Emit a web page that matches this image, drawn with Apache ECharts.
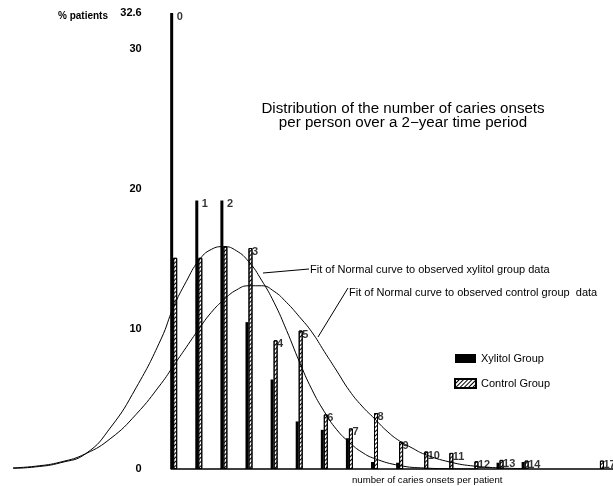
<!DOCTYPE html>
<html><head><meta charset="utf-8">
<script src="https://cdn.jsdelivr.net/npm/echarts@6/dist/echarts.min.js"></script>
<style>html,body{margin:0;padding:0;background:#fff}#c{width:613px;height:486px}</style>
</head><body><div id="c"></div>
<script>
// number of caries onsets per patient
const categories = [0,1,2,3,4,5,6,7,8,9,10,11,12,13,14,15,16,17];
// % patients
const xylitol = [32.6,19.2,19.2,10.5,6.4,3.4,2.8,2.2,0.5,0.45,0,0,0,0.45,0.5,0,0,0];
const control = [15.1,15.1,15.9,15.8,9.2,9.9,3.9,2.9,4.0,1.95,1.25,1.15,0.55,0.65,0.6,0,0,0.6];
const yTicks = [0,10,20,30,32.6];
// fitted Normal curves
const xylFitX = [-6.4,-5.5,-4.5,-3.5,-2.5,-1.5,-0.5,0,0.5,1,1.5,2,2.5,3,3.5,4,4.5,5,5.5,6,6.5,7,7.5,8,9,10,11,12];
const xylFitY = [0.05,0.15,0.45,1.1,3.0,5.8,9.3,11.6,13.4,14.9,15.7,15.9,15.6,14.8,13.5,11.9,9.9,7.7,5.7,4.1,2.8,1.9,1.2,0.75,0.25,0.07,0.02,0];
const ctlFitX = [-6.4,-5.5,-4.5,-3.5,-2.5,-1.5,-0.5,0,0.5,1,1.5,2,2.5,3,3.5,4,4.5,5,5.5,6,6.5,7,7.5,8,8.5,9,9.5,10,11,12,13,14];
const ctlFitY = [0.08,0.2,0.5,1.1,2.2,3.9,6.1,7.4,8.7,10.0,11.2,12.1,12.8,13.1,13.1,12.7,11.9,10.9,9.8,8.4,7.0,5.6,4.5,3.6,2.7,2.0,1.5,1.05,0.5,0.2,0.08,0.02];

const FONT = '"Liberation Sans", Arial, sans-serif';
const X_MIN = -6.5, X_MAX = 17.5;
const zip = (xs, ys) => xs.map((x, i) => [x, ys[i]]);

// full category band list spanning the plotted range (left tail of the curves included)
const bandCats = [];
for (let k = X_MIN + 0.5; k < X_MAX; k++) bandCats.push(String(k));
const lead = bandCats.length - categories.length;
const padded = arr => new Array(lead).fill(null).concat(arr.map(v => (v > 0 ? v : null)));

const tops = [];
categories.forEach((c, i) => {
  const m = Math.max(xylitol[i], control[i]);
  if (m > 0) tops.push([c, m]);
});

const GRID_L = 10.5, GRID_R = 0, GRID_T = 13, GRID_B = 17;
const unit = (613 - GRID_L - GRID_R) / (X_MAX - X_MIN);
const zeroPx = GRID_L + (0 - X_MIN) * unit;

const hidden = {axisLine: {show: false}, axisTick: {show: false}, axisLabel: {show: false}, splitLine: {show: false}};

const chart = echarts.init(document.getElementById('c'), null, {renderer: 'canvas'});
chart.setOption({
  animation: false,
  backgroundColor: '#fff',
  textStyle: {fontFamily: FONT},
  grid: [
    {left: GRID_L, right: GRID_R, top: GRID_T, bottom: GRID_B, containLabel: false, outerBoundsMode: 'none'},
    {left: zeroPx, right: GRID_R, top: GRID_T, bottom: GRID_B, containLabel: false, outerBoundsMode: 'none'}
  ],
  xAxis: [
    Object.assign({type: 'category', data: bandCats, boundaryGap: true, gridIndex: 0}, hidden),
    Object.assign({type: 'value', min: X_MIN, max: X_MAX, gridIndex: 0}, hidden),
    Object.assign({type: 'value', min: 0, max: 1, gridIndex: 1}, hidden)
  ],
  yAxis: [
    Object.assign({type: 'value', min: 0, max: 32.6, gridIndex: 0}, hidden),
    {
      type: 'value', min: 0, max: 32.6, interval: 10, gridIndex: 1,
      axisLine: {show: false}, axisTick: {show: false}, splitLine: {show: false},
      axisLabel: {customValues: yTicks, margin: 32, color: '#000', fontSize: 11, fontWeight: 'bold',
        fontFamily: FONT, formatter: v => String(v)}
    }
  ],
  legend: {
    orient: 'vertical', left: 449, top: 348, itemWidth: 21, itemHeight: 9, itemGap: 14,
    icon: 'rect', data: ['Xylitol Group', 'Control Group'],
    textStyle: {fontSize: 11, color: '#000', fontFamily: FONT}
  },
  series: [
    {
      name: 'Xylitol Group', type: 'bar', xAxisIndex: 0, yAxisIndex: 0, barWidth: 3, barGap: '0%',
      data: padded(xylitol),
      itemStyle: {color: '#000'}
    },
    {
      name: 'Control Group', type: 'bar', xAxisIndex: 0, yAxisIndex: 0, barWidth: 4, barGap: '0%',
      data: padded(control),
      itemStyle: {color: '#fff', borderColor: '#000', borderWidth: 1,
        decal: {symbol: 'rect', color: '#000', dashArrayX: [1, 0], dashArrayY: [1, 2], rotation: -Math.PI / 4}}
    },
    {
      name: 'labels', type: 'scatter', xAxisIndex: 1, yAxisIndex: 0, symbolSize: 0, data: tops, silent: true,
      label: {show: true, position: 'right', distance: 3, offset: [0, 4], color: '#000',
        fontSize: 11, fontWeight: 'bold', fontFamily: FONT, formatter: p => String(p.value[0])}
    },
    {
      name: 'xylFit', type: 'line', xAxisIndex: 1, yAxisIndex: 0, smooth: true, showSymbol: false, silent: true, z: 5,
      data: zip(xylFitX, xylFitY), lineStyle: {color: '#000', width: 1},
      markLine: {
        silent: true, symbol: 'none', label: {show: false},
        lineStyle: {color: '#000', width: 1.5, type: 'solid'},
        data: [[{coord: [-0.12, 0]}, {coord: [X_MAX, 0]}]]
      }
    },
    {
      name: 'ctlFit', type: 'line', xAxisIndex: 1, yAxisIndex: 0, smooth: true, showSymbol: false, silent: true, z: 5,
      data: zip(ctlFitX, ctlFitY), lineStyle: {color: '#000', width: 1}
    }
  ],
  graphic: [
    {type: 'text', left: 58, top: 11, style: {text: '% patients', fontSize: 10, fontWeight: 'bold', fill: '#000', fontFamily: FONT}},
    {type: 'text', x: 403, y: 102, scaleX: 1.08, style: {text: 'Distribution of the number of caries onsets\nper person over a 2\u2212year time period',
      fontSize: 14, lineHeight: 14, align: 'center', fill: '#000', fontFamily: FONT}},
    {type: 'line', shape: {x1: 263, y1: 273, x2: 309, y2: 269}, style: {stroke: '#000', lineWidth: 1}},
    {type: 'text', x: 310, y: 270, style: {text: 'Fit of Normal curve to observed xylitol group data',
      fontSize: 11, verticalAlign: 'middle', fill: '#000', fontFamily: FONT}},
    {type: 'line', shape: {x1: 318, y1: 337, x2: 348, y2: 288}, style: {stroke: '#000', lineWidth: 1}},
    {type: 'text', x: 349, y: 293, style: {text: 'Fit of Normal curve to observed control group  data',
      fontSize: 11, verticalAlign: 'middle', fill: '#000', fontFamily: FONT}},
    {type: 'text', x: 352, y: 480, style: {text: 'number of caries onsets per patient',
      fontSize: 9.6, verticalAlign: 'middle', fill: '#000', fontFamily: FONT}}
  ]
});
</script></body></html>
